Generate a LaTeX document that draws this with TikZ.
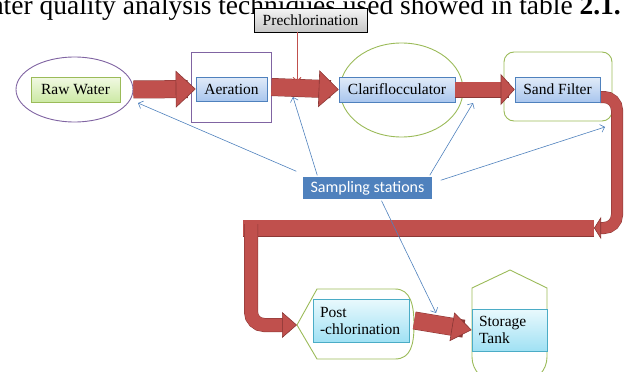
\documentclass[tikz,border=0pt]{standalone}
\usepackage{fontspec}
\setmainfont{Liberation Serif}
\newfontfamily\calibri{Carlito}
\usetikzlibrary{arrows.meta,calc,positioning,shapes.geometric,shadows}
\definecolor{pipered}{HTML}{C0504D}
\definecolor{pipedark}{HTML}{8C3836}
\definecolor{ringpurple}{HTML}{8064A2}
\definecolor{ringgreen}{HTML}{9BBB59}
\definecolor{boxblue}{HTML}{4F81BD}
\definecolor{boxaqua}{HTML}{4BACC6}
\definecolor{stagetop}{HTML}{E1EBF8}
\definecolor{stagebot}{HTML}{A9C6EE}
\definecolor{rawtop}{HTML}{F1F9E3}
\definecolor{rawbot}{HTML}{CCE9A4}
\definecolor{endtop}{HTML}{E9F9FD}
\definecolor{endbot}{HTML}{A0E1F4}
\tikzset{
    stage/.style={
        draw=boxblue, line width=0.6pt,
        top color=stagetop, bottom color=stagebot,
        font=\fontsize{15.5}{17}\selectfont, inner sep=2pt,
        drop shadow={opacity=0.25, shadow xshift=1pt, shadow yshift=-1.2pt}
    },
    rawstage/.style={stage, draw=ringgreen, top color=rawtop, bottom color=rawbot},
    endstage/.style={stage, draw=boxaqua, top color=endtop, bottom color=endbot, align=left, inner xsep=7pt},
    dosebox/.style={stage, draw=black, top color=gray!8, bottom color=gray!45},
    samplebox/.style={
        draw=white, line width=1.5pt, fill=boxblue, text=white,
        font=\calibri\fontsize{16}{18}\selectfont,
        drop shadow={opacity=0.3, shadow xshift=0.8pt, shadow yshift=-1pt}
    },
    ring/.style={line width=0.9pt},
    flow/.style 2 args={
        draw=pipered, line width=#1,
        preaction={draw=pipedark, line width=#1+1pt, arrows=-, shorten >=#2}
    },
    bighead/.style={-{Triangle[length=20pt,width=37pt,line width=0.6pt,color=pipedark,fill=pipered]}},
    midhead/.style={-{Triangle[length=14pt,width=31pt,line width=0.6pt,color=pipedark,fill=pipered]}},
    endhead/.style={-{Triangle[length=20pt,width=29pt,line width=0.6pt,color=pipedark,fill=pipered]}},
    bendhead/.style={-{Triangle[length=15pt,width=26pt,line width=0.6pt,color=pipedark,fill=pipered]}},
    loophead/.style={-{Triangle[length=7pt,width=22pt,line width=0.6pt,color=pipedark,fill=pipered]}},
    probe/.style={draw=boxblue, line width=0.6pt, -{Straight Barb[length=4pt,width=8pt]}},
    dose/.style={draw=pipered, line width=0.9pt, -{Straight Barb[length=4pt,width=8pt]}}
}
\begin{document}
\begin{tikzpicture}[x=1pt,y=-1pt]
\useasboundingbox (0,0) rectangle (624,372);
\clip (0,0) rectangle (624,372);
\node[anchor=base east, inner sep=0pt, font=\fontsize{27.5}{30}\selectfont] (caption) at (621,14)
    {water quality analysis techniques used showed in table \textbf{2.1.}};

\node[ellipse, draw=ringpurple, ring, minimum width=117, minimum height=65] (rawring) at (74.5,89.5) {};
\node[draw=ringpurple, ring, minimum width=80, minimum height=70] (aerframe) at (231,87) {};
\node[ellipse, draw=ringgreen, ring, minimum width=123, minimum height=94] (clarring) at (401.5,90) {};
\node[draw=ringgreen, ring, rounded corners=10pt, minimum width=108, minimum height=69] (sandframe) at (558,86.5) {};
\draw[ring, draw=ringgreen] (297,325) -- (317,289) -- (395,289)
    .. controls (411,289) and (414,306) .. (414,325)
    .. controls (414,344) and (411,359) .. (395,359) -- (317,359) -- cycle;
\draw[ring, draw=ringgreen] (472,288) -- (510,270) -- (547,288) -- (547,357)
    arc[start angle=0, end angle=90, radius=25] -- (497,382)
    arc[start angle=90, end angle=180, radius=25] -- cycle;

\coordinate (postv) at (297,325);
\coordinate (barright) at (594,228);
\coordinate (barleft) at (243,228);
\coordinate (dosept) at (297,82);

\draw[flow={11pt}{4pt}, loophead, rounded corners=13] (600,97) -| ($(barright)+(23,0)$) -- (barright);
\draw[flow={16pt}{0pt}] (barright) -- (barleft);
\draw[flow={13pt}{8pt}, bendhead, rounded corners=13] ($(barleft)+(8,-4)$) |- (postv);

\node[rawstage, minimum width=89, minimum height=25] (raw) at (75.5,89.5) {Raw Water};
\node[stage, minimum width=71, minimum height=24] (aer) at (231.5,89) {Aeration};
\node[stage, minimum width=116, minimum height=25] (clar) at (397,89.5) {Clariflocculator};
\node[stage, minimum width=85, minimum height=25] (sand) at (557.5,89.5) {Sand Filter};
\node[endstage, text width=82, minimum height=43] (post) at (361,320.5) {Post\\-chlorination};
\node[endstage, text width=61, minimum height=42] (store) at (509.5,330) {Storage\\Tank};
\node[dosebox, minimum width=113, minimum height=24] (prechl) at (310.5,20) {Prechlorination};
\node[samplebox, minimum width=131, minimum height=24] (samp) at (367.5,188) {Sampling stations};

\draw[flow={17pt}{8pt}, bighead] (rawring.east) -- (aer.west);
\draw[flow={17pt}{8pt}, bighead] (aerframe.east) -- (clar.west);
\draw[flow={15pt}{6pt}, midhead] (clar.east) -- (sand.west);
\draw[flow={17pt}{8pt}, endhead] ($(post.east)+(5,0)$) -- (store.west);
\draw[dose] ($(prechl.south)+(-13.5,0)$) -- (dosept);

\coordinate (s1) at (138,103);
\coordinate (s2) at (293,97);
\coordinate (s3) at (473,103);
\coordinate (s4) at (605,127);
\coordinate (s5) at (436,313);
\draw[probe] ($(samp.north west)+(-5,-4)$) -- (s1);
\draw[probe] ($(samp.north west)+(16,0)$) -- (s2);
\draw[probe] ($(samp.north east)+(-4,0)$) -- (s3);
\draw[probe] ($(samp.north east)+(7,5)$) -- (s4);
\draw[probe] ($(samp.south)+(14,0)$) -- (s5);
\end{tikzpicture}
\end{document}
